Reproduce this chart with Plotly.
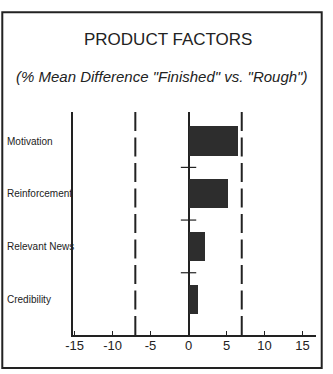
import plotly.graph_objects as go

# Product factor categories, top to bottom
factors = ["Motivation", "Reinforcement", "Relevant News", "Credibility"]
mean_diff = [6.5, 5.2, 2.1, 1.2]          # % mean difference "Finished" vs. "Rough"
limits = [-7, 7]                           # dashed reference limits
separators = [0.5, 1.5, 2.5]               # small marks between factors
x_ticks = [-15, -10, -5, 0, 5, 10, 15]

ink = "#222222"
font_family = "Liberation Sans, Arial, Helvetica, sans-serif"
ypos = list(range(len(factors)))

fig = go.Figure()

fig.add_trace(go.Bar(
    x=mean_diff, y=ypos, orientation="h", width=0.553,
    marker=dict(color="#2d2d2d", line=dict(width=0)),
    hoverinfo="skip", showlegend=False,
))

fig.add_trace(go.Scatter(
    x=[0] * len(separators), y=separators, mode="markers",
    marker=dict(symbol="line-ew", size=11, line=dict(color=ink, width=1.2)),
    hoverinfo="skip", showlegend=False,
))

for v in limits:
    fig.add_shape(type="line", xref="x", yref="paper", x0=v, x1=v, y0=1, y1=0,
                  line=dict(color=ink, width=2, dash="19px,6.5px"))

# outer frame
fig.add_shape(type="rect", xref="paper", yref="paper",
              x0=-0.291, x1=1.0235, y0=-0.148, y1=1.447,
              line=dict(color=ink, width=2), fillcolor="rgba(0,0,0,0)")

fig.add_annotation(text="PRODUCT FACTORS", xref="paper", yref="paper",
                   x=0.393, y=1.325, xanchor="center", yanchor="middle",
                   showarrow=False, font=dict(size=17, color=ink, family=font_family))
fig.add_annotation(text="<i>(% Mean Difference \"Finished\" vs. \"Rough\")</i>",
                   xref="paper", yref="paper", x=0.365, y=1.157,
                   xanchor="center", yanchor="middle", showarrow=False,
                   font=dict(size=15, color=ink, family=font_family))

for name, y in zip(factors, ypos):
    fig.add_annotation(text=name, xref="paper", yref="y", x=-0.28, y=y,
                       xanchor="left", yanchor="middle", showarrow=False,
                       font=dict(size=10, color=ink, family=font_family))

fig.update_layout(
    width=333, height=374,
    margin=dict(l=73, r=17, t=112, b=39),
    paper_bgcolor="white", plot_bgcolor="white",
    font=dict(family=font_family, color=ink),
    bargap=0,
    xaxis=dict(
        range=[-15.2, 16.77], tickvals=x_ticks, ticktext=[str(t) for t in x_ticks],
        showgrid=False, zeroline=True, zerolinecolor=ink, zerolinewidth=1.5,
        showline=True, linecolor=ink, linewidth=2,
        ticks="inside", ticklen=4, tickwidth=1, tickcolor=ink,
        tickfont=dict(size=13, color=ink), ticklabelstandoff=-3,
    ),
    yaxis=dict(
        range=[3.682, -0.5515], showgrid=False, zeroline=False,
        showline=True, linecolor=ink, linewidth=2,
        showticklabels=False, ticks="",
    ),
)

fig.write_html("out.html")
